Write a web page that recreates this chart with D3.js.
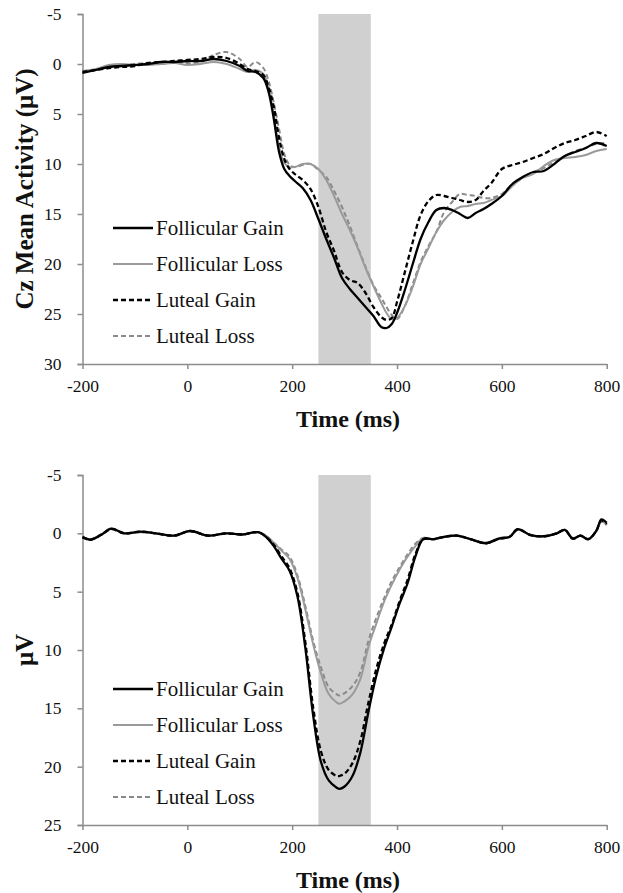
<!DOCTYPE html>
<html>
<head>
<meta charset="utf-8">
<script src="https://cdnjs.cloudflare.com/ajax/libs/d3/7.8.5/d3.min.js"></script>
<style>
  body { margin: 0; background: #fff; }
  svg { display: block; }
</style>
</head>
<body>
<svg id="chart" width="623" height="893"></svg>
<script>
// ---- data ----
const seriesNames = ['Follicular Gain', 'Follicular Loss', 'Luteal Gain', 'Luteal Loss'];
const xTicks = [-200, 0, 200, 400, 600, 800];
const yTicksTop = [-5, 0, 5, 10, 15, 20, 25, 30];
const yTicksBottom = [-5, 0, 5, 10, 15, 20, 25];
const windowMs = [250, 350];

// top panel: Cz mean activity
const timeTop = [-200,-175,-150,-125,-100,-75,-50,-25,0,25,50,75,100,115,130,145,155,165,175,185,195,205,220,235,250,265,280,295,310,325,340,355,370,380,390,400,415,430,445,460,475,490,505,520,535,550,565,580,600,620,640,660,680,700,720,740,760,780,800];
const follGainTop = [0.9,0.6,0.3,0.2,0.1,0.0,-0.2,-0.2,-0.3,-0.3,-0.5,-0.3,0.2,0.7,0.8,1.4,2.8,5.5,8.8,10.5,11.2,11.7,12.4,13.6,15.5,17.5,19.4,21.4,22.5,23.4,24.3,25.2,26.3,26.4,26.0,24.9,22.6,20.0,17.5,15.8,14.6,14.4,14.6,15.0,15.4,14.9,14.5,14.0,13.2,12.0,11.3,10.8,10.7,10.0,9.2,8.8,8.4,7.9,8.2];
const follLossTop = [0.7,0.5,0.1,0.0,0.1,0.1,0.0,-0.1,0.1,0.0,-0.2,0.0,0.5,0.8,0.6,1.0,2.5,5.2,8.3,9.9,10.3,10.3,10.0,10.0,10.5,11.6,13.2,15.0,16.6,18.4,20.4,22.2,23.9,24.9,25.5,25.4,24.2,22.3,20.0,18.4,16.8,15.6,14.8,14.3,14.2,14.0,13.9,13.6,13.2,12.2,11.4,11.0,10.2,9.6,9.4,9.3,9.1,8.7,8.5];
const lutGainTop = [0.8,0.6,0.4,0.3,0.2,-0.1,-0.2,-0.3,-0.4,-0.5,-0.7,-0.6,0.0,0.5,0.7,1.1,2.3,4.3,7.4,9.5,10.5,11.0,11.6,12.5,14.3,16.8,18.7,20.8,21.6,21.9,22.9,24.3,25.3,25.6,25.4,23.8,20.8,17.8,15.1,13.7,13.1,13.2,13.4,13.6,13.8,13.6,12.7,11.9,10.5,10.1,9.8,9.4,9.0,8.4,7.9,7.6,7.2,6.8,7.2];
const lutLossTop = [0.7,0.6,0.3,0.1,0.0,-0.1,0.0,-0.2,-0.1,-0.2,-0.9,-1.2,-0.5,0.3,-0.2,0.4,1.7,3.9,6.5,9.0,10.1,10.3,10.1,10.0,10.6,11.3,12.7,14.3,16.2,18.3,20.3,22.1,23.4,24.3,25.1,25.5,24.2,22.0,19.8,18.2,16.8,14.8,13.8,13.0,13.1,13.2,13.4,13.4,13.0,12.0,11.3,10.8,10.4,9.8,9.2,8.7,8.4,8.0,7.9];

// bottom panel
const timeBottom = [-200,-185,-165,-145,-120,-90,-60,-25,5,40,75,105,135,150,165,180,195,210,225,240,255,270,285,290,300,315,330,345,360,375,390,405,420,435,450,470,490,515,540,570,595,615,630,655,680,705,720,735,750,765,780,790,800];
const follGainBottom = [0.3,0.55,0.15,-0.4,0.0,-0.15,0.0,0.2,-0.2,0.2,0.0,0.1,-0.1,0.3,1.1,2.2,3.2,5.4,9.8,15.6,19.6,21.2,21.8,21.9,21.7,20.8,18.8,15.4,12.3,9.9,8.0,6.0,4.3,2.0,0.5,0.5,0.3,0.2,0.5,0.85,0.45,0.3,-0.35,0.15,0.25,0.0,-0.3,0.45,0.2,0.5,-0.2,-1.2,-0.9];
const follLossBottom = [0.3,0.5,0.1,-0.4,0.0,-0.1,0.0,0.2,-0.2,0.2,0.0,0.1,-0.1,0.2,0.8,1.5,2.2,3.8,6.5,9.5,12.0,13.8,14.5,14.6,14.4,13.8,12.5,9.8,7.8,5.9,4.4,3.1,2.0,1.1,0.4,0.5,0.3,0.2,0.5,0.8,0.4,0.3,-0.3,0.15,0.25,0.0,-0.3,0.4,0.2,0.5,-0.2,-1.0,-0.7];
const lutGainBottom = [0.35,0.55,0.15,-0.35,0.0,-0.15,0.0,0.2,-0.2,0.2,0.0,0.1,-0.1,0.3,1.0,2.0,3.0,5.1,9.3,14.9,18.7,20.3,20.8,20.8,20.6,19.7,17.8,14.6,11.7,9.5,7.8,5.8,4.0,1.8,0.5,0.5,0.3,0.2,0.5,0.85,0.45,0.3,-0.35,0.15,0.25,0.0,-0.3,0.45,0.2,0.5,-0.2,-1.1,-0.8];
const lutLossBottom = [0.3,0.5,0.1,-0.4,0.0,-0.1,0.0,0.2,-0.2,0.2,0.0,0.1,-0.1,0.2,0.8,1.4,2.0,3.6,6.2,9.2,11.5,13.2,13.8,13.9,13.7,13.1,11.9,9.3,7.3,5.6,4.1,2.9,1.8,0.9,0.4,0.5,0.3,0.2,0.5,0.8,0.4,0.3,-0.3,0.15,0.25,0.0,-0.3,0.4,0.2,0.5,-0.2,-1.0,-0.7];

const styles = [
  { color: '#000', width: 2.3, dash: null },
  { color: '#9a9a9a', width: 2, dash: null },
  { color: '#000', width: 2.3, dash: '5,3' },
  { color: '#8a8a8a', width: 2, dash: '5,3' }
];

const svg = d3.select('#chart');
const font = '"Liberation Serif", "Times New Roman", serif';

const x = d3.scaleLinear().domain([-200, 800]).range([82.5, 606.7]);

function panel(opts) {
  const y = d3.scaleLinear().domain(opts.yDomain).range(opts.yRange);
  const g = svg.append('g');

  // analysis window band
  g.append('rect')
    .attr('x', x(windowMs[0]))
    .attr('width', x(windowMs[1]) - x(windowMs[0]))
    .attr('y', opts.yRange[0])
    .attr('height', opts.yRange[1] - opts.yRange[0])
    .attr('fill', '#d0d0d0');

  const yAxis = g.append('g')
    .attr('transform', `translate(${x(-200)},0)`)
    .call(d3.axisLeft(y).tickValues(opts.yTicks).tickSize(5).tickPadding(16).tickFormat(d3.format('d')));

  const xAxis = g.append('g')
    .attr('transform', `translate(0,${opts.yRange[1]})`)
    .call(d3.axisBottom(x).tickValues(xTicks).tickSize(5).tickPadding(11).tickSizeOuter(0).tickFormat(d3.format('d')));

  [yAxis, xAxis].forEach(ax => {
    ax.select('.domain').attr('stroke', '#8c8c8c').attr('stroke-width', 1.5);
    ax.selectAll('.tick line').attr('stroke', '#8c8c8c').attr('stroke-width', 1.5);
    ax.selectAll('.tick text')
      .attr('fill', '#111')
      .attr('font-family', font)
      .attr('font-size', 17.5);
  });
  yAxis.selectAll('.tick text').text(d => d < 0 ? '-' + Math.abs(d) : d);
  xAxis.selectAll('.tick text').text(d => d < 0 ? '-' + Math.abs(d) : d);

  const line = d3.line()
    .x(d => x(d[0]))
    .y(d => y(d[1]))
    .curve(d3.curveCatmullRom.alpha(0.5));

  // draw order: dashed gray, gray, dashed black, black
  [3, 1, 2, 0].forEach(i => {
    const pts = opts.time.map((t, k) => [t, opts.series[i][k]]);
    g.append('path')
      .datum(pts)
      .attr('fill', 'none')
      .attr('stroke', styles[i].color)
      .attr('stroke-width', styles[i].width)
      .attr('stroke-dasharray', styles[i].dash)
      .attr('stroke-linejoin', 'round')
      .attr('d', line);
  });

  // legend
  const leg = g.append('g');
  seriesNames.forEach((name, i) => {
    const ly = opts.legendY + i * 36;
    leg.append('line')
      .attr('x1', 113).attr('x2', 153)
      .attr('y1', ly).attr('y2', ly)
      .attr('stroke', styles[i].color)
      .attr('stroke-width', styles[i].width)
      .attr('stroke-dasharray', styles[i].dash);
    leg.append('text')
      .attr('x', 156)
      .attr('y', ly + 7)
      .attr('font-family', font)
      .attr('font-size', 21)
      .attr('fill', '#111')
      .text(name);
  });

  // axis titles
  const mid = (opts.yRange[0] + opts.yRange[1]) / 2;
  g.append('text')
    .attr('transform', `translate(33,${mid}) rotate(-90)`)
    .attr('text-anchor', 'middle')
    .attr('font-family', font)
    .attr('font-weight', 'bold')
    .attr('font-size', 25)
    .attr('fill', '#111')
    .text(opts.yTitle);

  g.append('text')
    .attr('x', 348)
    .attr('y', opts.yRange[1] + 63)
    .attr('text-anchor', 'middle')
    .attr('font-family', font)
    .attr('font-weight', 'bold')
    .attr('font-size', 24)
    .attr('fill', '#111')
    .text('Time (ms)');
}

panel({
  yDomain: [-5, 30], yRange: [14, 364], yTicks: yTicksTop,
  time: timeTop,
  series: [follGainTop, follLossTop, lutGainTop, lutLossTop],
  legendY: 228,
  yTitle: 'Cz Mean Activity (μV)'
});

panel({
  yDomain: [-5, 25], yRange: [475, 825], yTicks: yTicksBottom,
  time: timeBottom,
  series: [follGainBottom, follLossBottom, lutGainBottom, lutLossBottom],
  legendY: 689,
  yTitle: 'μV'
});
</script>
</body>
</html>
